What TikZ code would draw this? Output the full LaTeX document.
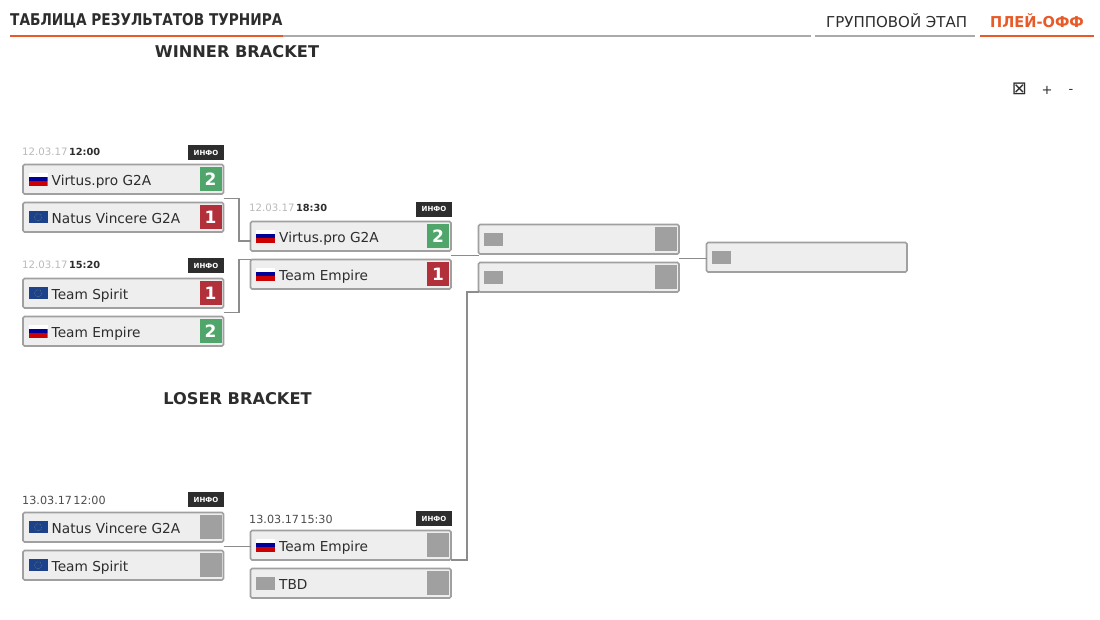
\documentclass[tikz,border=0pt]{standalone}
\usepackage{fontspec}
\setmainfont{DejaVu Sans}
\newfontfamily\titlefont[FakeStretch=0.845]{DejaVu Sans}
\newfontfamily\tabfont[FakeStretch=0.97]{DejaVu Sans}
\usetikzlibrary{calc,positioning}
\definecolor{inkdark}{RGB}{45,45,45}
\definecolor{tabline}{RGB}{170,170,170}
\definecolor{tabfire}{RGB}{232,90,40}
\definecolor{boxfill}{RGB}{238,238,238}
\definecolor{boxline}{RGB}{160,160,160}
\definecolor{linkline}{RGB}{140,140,140}
\definecolor{wincol}{RGB}{80,166,106}
\definecolor{losecol}{RGB}{178,48,58}
\definecolor{nocol}{RGB}{160,160,160}
\definecolor{datecol}{RGB}{185,185,185}
\definecolor{eucol}{RGB}{28,66,140}
\tikzset{
  teambox/.style={
    rectangle,
    rounded corners=1.5pt,
    fill=boxfill,
    draw=boxline, line width=1.6pt,
    minimum width=200.5pt,
    minimum height=29.5pt,
    outer sep=0pt},
  teamname/.style={font=\fontsize{13.7}{14}\selectfont, color=inkdark, inner sep=0pt,
    text height=13pt, text depth=0pt, anchor=west},
  scorebox/.style={
    rectangle,
    minimum width=22pt,
    minimum height=24pt,
    inner sep=0pt, outer sep=0pt,
    text=white,
    font=\bfseries\fontsize{17}{17}\selectfont},
  flagbox/.style={rectangle, minimum width=19pt, minimum height=13pt, inner sep=0pt, outer sep=0pt},
  ruflag/.style={flagbox, fill=white,
    path picture={
      \fill[blue!60!black] ($(path picture bounding box.north west)!.36!(path picture bounding box.south west)$) rectangle ($(path picture bounding box.north east)!.66!(path picture bounding box.south east)$);
      \fill[red!80!black] ($(path picture bounding box.north west)!.66!(path picture bounding box.south west)$) rectangle (path picture bounding box.south east);}},
  euflag/.style={flagbox, fill=eucol, minimum height=12pt,
    path picture={
      \draw[yellow!50!eucol, densely dotted] (path picture bounding box.center) circle (3.6pt);}},
  noflag/.style={flagbox, fill=nocol},
  infobadge/.style={rectangle, fill=inkdark, text=white, minimum width=36pt, minimum height=15pt,
    inner sep=0pt, font=\bfseries\fontsize{7}{7}\selectfont},
  datetext/.style={inner sep=0pt, anchor=west, font=\fontsize{10.2}{12}\selectfont, color=datecol},
  timetext/.style={inner sep=0pt, anchor=west, font=\bfseries\fontsize{9.8}{12}\selectfont, color=inkdark},
  loserdate/.style={inner sep=0pt, anchor=west, font=\fontsize{11.2}{12}\selectfont, color=inkdark!85},
  link/.style={draw=linkline, line width=1.5pt},
  tabrule/.style={line width=2.6pt},
  bigtitle/.style={inner sep=0pt, color=inkdark, font=\bfseries\fontsize{16.2}{17}\selectfont},
}
% name, left, top, flag style, team, score colour, score
\newcommand{\teamrow}[7]{
  \node[teambox, anchor=north west] (#1) at (#2,#3) {};
  \node[#4, right=5.5pt of #1.west] (#1flag) {};
  \node[teamname, right=4pt of #1flag.east] (#1name) {#5};
  \node[scorebox, fill=#6, left=2pt of #1.east] (#1score) {#7};
}
\begin{document}
\begin{tikzpicture}[x=1pt,y=-1pt]
  \useasboundingbox (0,0) rectangle (1100,619);

  %header
  \node[bigtitle, anchor=west, font=\titlefont\bfseries\fontsize{16.2}{17}\selectfont] (title) at (10,20.5) {ТАБЛИЦА РЕЗУЛЬТАТОВ ТУРНИРА};
  \node[bigtitle, anchor=west, font=\fontsize{15}{16}\selectfont] (groupstage) at (826,20.5) {ГРУППОВОЙ ЭТАП};
  \node[bigtitle, anchor=west, color=tabfire, font=\tabfont\bfseries\fontsize{15}{16}\selectfont] (playoff) at (990,20.5) {ПЛЕЙ-ОФФ};
  \coordinate (titleend) at (283,36);
  \coordinate (tabgap) at (811,36);
  \draw[tabrule, tabline] (titleend) -- (tabgap);
  \draw[tabrule, tabfire] (10,36) -- (titleend);
  \draw[tabrule, tabline] (815,36) -- (975,36);
  \draw[tabrule, tabfire] (980,36) -- (1094,36);
  \node[bigtitle] (winner) at (237,52) {WINNER BRACKET};
  \node[bigtitle] (loser) at (237.5,399) {LOSER BRACKET};

  %zoom icons
  \node[inner sep=0pt, color=inkdark, font=\fontsize{18}{18}\selectfont] (zoomfit) at (1019.5,89) {⊠};
  \node[inner sep=0pt, color=inkdark, font=\fontsize{13}{13}\selectfont] (zoomin) at (1047,90.5) {+};
  \node[inner sep=0pt, color=inkdark, font=\fontsize{13}{13}\selectfont] (zoomout) at (1071,91.5) {-};

  %winner bracket, first round
  \node[datetext] (wadate) at (22,152) {12.03.17};
  \node[timetext, right=1pt of wadate] (watime) {12:00};
  \node[infobadge] (wainfo) at (206,152.5) {ИНФО};
  \teamrow{vpa}{23}{164.5}{ruflag}{Virtus.pro G2A}{wincol}{2}
  \teamrow{nav}{23}{202.5}{euflag}{Natus Vincere G2A}{losecol}{1}

  \node[datetext] (wbdate) at (22,265) {12.03.17};
  \node[timetext, right=1pt of wbdate] (wbtime) {15:20};
  \node[infobadge] (wbinfo) at (206,265.5) {ИНФО};
  \teamrow{spi}{23}{278.5}{euflag}{Team Spirit}{losecol}{1}
  \teamrow{emp}{23}{316.5}{ruflag}{Team Empire}{wincol}{2}

  %winner bracket, second round
  \node[datetext] (wcdate) at (249,208) {12.03.17};
  \node[timetext, right=1pt of wcdate] (wctime) {18:30};
  \node[infobadge] (wcinfo) at (434,209) {ИНФО};
  \teamrow{vpb}{250.5}{221.5}{ruflag}{Virtus.pro G2A}{wincol}{2}
  \teamrow{empb}{250.5}{259.5}{ruflag}{Team Empire}{losecol}{1}

  %final rounds
  \teamrow{semia}{478.5}{224.5}{noflag}{}{nocol}{}
  \teamrow{semib}{478.5}{262.5}{noflag}{}{nocol}{}
  \node[teambox, anchor=north west] (final) at (706.5,242.5) {};
  \node[noflag, right=5.5pt of final.west] (finalflag) {};

  %loser bracket, first round
  \node[loserdate] (ladate) at (22,500) {13.03.17};
  \node[loserdate, right=1pt of ladate] (latime) {12:00};
  \node[infobadge] (lainfo) at (206,499.5) {ИНФО};
  \teamrow{navl}{23}{512.5}{euflag}{Natus Vincere G2A}{nocol}{}
  \teamrow{spil}{23}{550.5}{euflag}{Team Spirit}{nocol}{}

  %loser bracket, second round
  \node[loserdate] (lbdate) at (249,519) {13.03.17};
  \node[loserdate, right=1pt of lbdate] (lbtime) {15:30};
  \node[infobadge] (lbinfo) at (434,518.5) {ИНФО};
  \teamrow{empl}{250.5}{530.5}{ruflag}{Team Empire}{nocol}{}
  \teamrow{tbd}{250.5}{568.5}{noflag}{TBD}{nocol}{}

  %links
  \coordinate (wagap) at ($(vpa.south east)!.5!(nav.north east)$);
  \coordinate (wbgap) at ($(spi.south east)!.5!(emp.north east)$);
  \coordinate (wcgap) at ($(vpb.south east)!.5!(empb.north east)$);
  \coordinate (semigap) at ($(semia.south east)!.5!(semib.north east)$);
  \coordinate (lagap) at ($(navl.south east)!.5!(spil.north east)$);
  \draw[link] (wagap) -- ++(15.5,0) |- ($(vpb.south west)+(0,-10)$);
  \draw[link] (wbgap) -- ++(15.5,0) |- (empb.north west);
  \draw[link] (wcgap) -- (wcgap -| semia.west);
  \draw[link] (semigap) -- (semigap -| final.west);
  \draw[link] (lagap) -- (lagap -| empl.west);
  \draw[link] (empl.south east) -- ++(16,0) |- (semib.south west);
\end{tikzpicture}
\end{document}
